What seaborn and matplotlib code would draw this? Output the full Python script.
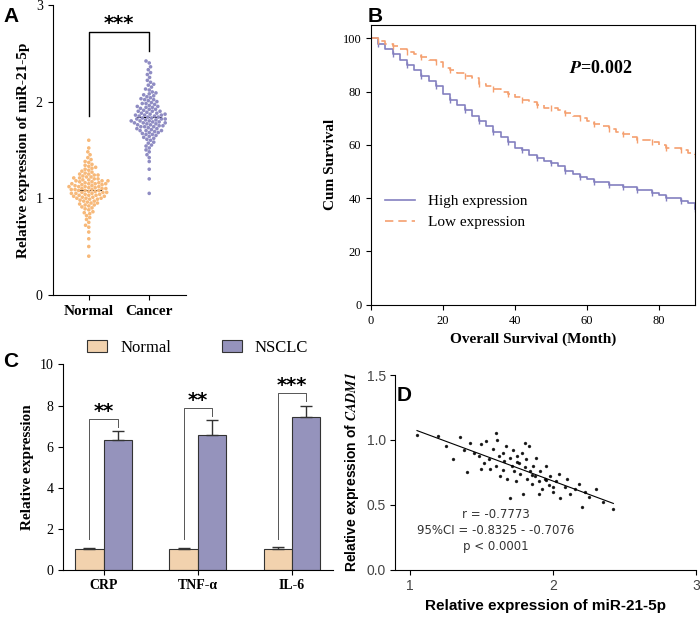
import matplotlib
matplotlib.use("Agg")
import matplotlib.pyplot as plt
import seaborn as sns
import numpy as np
import pandas as pd

normal_vals = [0.40,0.50,0.58,0.65,0.70,0.72,0.75,0.78,0.80,0.82,0.84,0.85,0.86,0.88,0.89,0.90,0.91,0.92,0.93,0.94,
 0.95,0.95,0.96,0.97,0.97,0.98,0.99,0.99,1.00,1.00,1.01,1.01,1.02,1.02,1.03,1.03,1.04,1.04,1.05,1.05,
 1.05,1.06,1.06,1.07,1.07,1.08,1.08,1.08,1.09,1.09,1.10,1.10,1.10,1.11,1.11,1.12,1.12,1.12,1.13,1.13,
 1.14,1.14,1.15,1.15,1.15,1.16,1.16,1.17,1.17,1.18,1.18,1.19,1.19,1.20,1.20,1.21,1.22,1.22,1.23,1.24,
 1.25,1.25,1.26,1.27,1.28,1.29,1.30,1.31,1.32,1.33,1.34,1.35,1.37,1.38,1.40,1.42,1.45,1.48,1.52,1.60,
 1.00,1.03,1.06,1.09,1.12,1.15,1.18,1.21,1.24,0.93]
cancer_vals = [1.05,1.20,1.30,1.38,1.42,1.45,1.48,1.50,1.52,1.54,1.55,1.57,1.58,1.60,1.61,1.62,1.63,1.64,1.65,1.66,
 1.67,1.68,1.68,1.69,1.70,1.70,1.71,1.72,1.72,1.73,1.74,1.74,1.75,1.75,1.76,1.76,1.77,1.77,1.78,1.78,
 1.79,1.79,1.80,1.80,1.80,1.81,1.81,1.82,1.82,1.83,1.83,1.84,1.84,1.85,1.85,1.86,1.86,1.87,1.87,1.88,
 1.88,1.89,1.90,1.90,1.91,1.92,1.92,1.93,1.94,1.95,1.95,1.96,1.97,1.98,1.99,2.00,2.01,2.02,2.03,2.04,
 2.05,2.06,2.07,2.08,2.09,2.10,2.12,2.13,2.15,2.17,2.18,2.20,2.22,2.25,2.28,2.30,2.33,2.36,2.40,2.42,
 1.78,1.82,1.86,1.90,1.74,1.70,1.66,1.94,1.98,2.02]

high_t = [0,2,4,6,8,10,12,14,16,18,20,22,24,26,28,30,32,34,36,38,40,42,44,46,48,50,52,54,56,58,60,62,64,66,68,70,72,74,76,78,80,82,84,86,88,90]
high_s = [100,98,96,94,92,90,88,86,84,82,79,77,75,73,71,69,67,65,63,61,59,58,56,55,54,53,52,50,49,48,47,46,46,45,45,44,44,43,43,42,41,40,40,39,38,36]
low_t = high_t
low_s = [100,99,98,97,96,95,94,93,92,91,89,88,87,86,85,83,82,81,80,79,78,77,76,75,74,74,73,72,71,70,69,68,67,66,65,64,63,62,62,61,60,59,59,58,57,56]

cats = ["CRP","TNF-α","IL-6"]
normal_means = [1.0,1.0,1.03]
normal_err = [0.05,0.07,0.07]
nsclc_means = [6.3,6.55,7.45]
nsclc_err = [0.45,0.75,0.55]
stars_c = ["**","**","***"]

sc_x = [1.05,1.20,1.25,1.30,1.35,1.38,1.40,1.42,1.45,1.48,1.50,1.52,1.53,1.55,1.56,1.58,1.60,1.61,1.62,1.63,
 1.65,1.66,1.67,1.68,1.70,1.71,1.72,1.73,1.74,1.75,1.76,1.77,1.78,1.79,1.80,1.81,1.82,1.83,1.84,1.85,
 1.86,1.87,1.88,1.90,1.91,1.92,1.94,1.95,1.97,1.98,2.00,2.02,2.04,2.05,2.08,2.10,2.12,2.15,2.18,2.20,
 2.22,2.25,2.30,2.35,2.42,1.60,1.70,1.80,1.90,2.00,1.50,1.75,1.85,1.95,1.65]
sc_y = [1.04,1.03,0.95,0.85,1.02,0.92,0.75,0.98,0.90,0.88,0.97,0.82,0.99,0.85,0.78,0.93,0.80,1.00,0.88,0.72,
 0.90,0.84,0.95,0.70,0.86,0.80,0.92,0.76,0.68,0.88,0.82,0.74,0.90,0.58,0.79,0.85,0.70,0.95,0.76,0.66,
 0.80,0.72,0.86,0.68,0.76,0.62,0.70,0.80,0.65,0.72,0.60,0.68,0.74,0.55,0.64,0.70,0.58,0.62,0.66,0.48,
 0.60,0.56,0.62,0.52,0.47,1.05,0.55,0.98,0.58,0.64,0.78,0.83,0.73,0.69,0.77]

plt.rcParams['mathtext.fontset'] = 'stix'
serif = ["Liberation Serif","DejaVu Serif"]
sans = ["Liberation Sans","DejaVu Sans"]
fig = plt.figure(figsize=(7,6.22), dpi=100)

# A
axA = fig.add_axes([0.075,0.526,0.19,0.466])
dfA = pd.DataFrame({"g":["Normal"]*len(normal_vals)+["Cancer"]*len(cancer_vals),"v":normal_vals+cancer_vals})
sns.swarmplot(data=dfA,x="g",y="v",hue="g",palette=["#f7b97a","#8f8cc3"],size=2.6,ax=axA,legend=False)
for i,vals in enumerate([normal_vals,cancer_vals]):
    m=np.mean(vals); axA.plot([i-0.2,i+0.2],[m,m],color="k",lw=0.8)
axA.set_ylim(0,3); axA.set_yticks([0,1,2,3]); axA.set_xlim(-0.6,1.6)
axA.plot([0,0,1,1],[1.85,2.72,2.72,2.52],color="k",lw=1)
axA.text(0.5,2.75,"***",ha="center",fontsize=14,fontweight="bold")
axA.set_xlabel(""); axA.set_ylabel("Relative expression of miR-21-5p",family=serif,fontsize=11,fontweight="bold")
for t in axA.get_xticklabels(): t.set_family(serif); t.set_fontweight("bold"); t.set_fontsize(11)
for t in axA.get_yticklabels(): t.set_family(serif)
sns.despine(ax=axA)
fig.text(0.005,0.965,"A",fontsize=15,fontweight="bold",family=sans)

# B
axB = fig.add_axes([0.53,0.51,0.463,0.45])
axB.step(high_t,high_s,where="post",color="#8480c0",lw=1.2,label="High expression")
axB.step(low_t,low_s,where="post",color="#f5a070",lw=1.2,ls=(0,(5,3)),label="Low expression")
axB.plot(high_t[1::2],high_s[1::2],"|",color="#8480c0",ms=5)
axB.plot(low_t[1::2],low_s[1::2],"|",color="#f5a070",ms=5)
axB.set_xlim(0,90); axB.set_ylim(0,105)
axB.set_yticks(range(0,101,20)); axB.set_xticks(range(0,81,20))
axB.set_xlabel("Overall Survival (Month)",family=serif,fontsize=11,fontweight="bold")
axB.set_ylabel("Cum Survival",family=serif,fontsize=11,fontweight="bold")
axB.text(55,87,"$\\mathbfit{P}$=0.002",family=serif,fontsize=13,fontweight="bold")
axB.legend(loc="lower left",bbox_to_anchor=(0.0,0.22),frameon=False,prop={"family":serif,"size":11})
for t in axB.get_xticklabels()+axB.get_yticklabels(): t.set_family(serif); t.set_fontsize(9)
fig.text(0.525,0.965,"B",fontsize=15,fontweight="bold",family=sans)

# C
axC = fig.add_axes([0.09,0.084,0.385,0.33])
dfC = pd.DataFrame({"c":cats*2,"g":["Normal"]*3+["NSCLC"]*3,"v":normal_means+nsclc_means})
sns.barplot(data=dfC,x="c",y="v",hue="g",palette=["#fdd3a3","#8f8cc3"],edgecolor="#333",lw=0.8,width=0.6,ax=axC,errorbar=None)
for i in range(3):
    axC.errorbar(i-0.15,normal_means[i],yerr=[[0],[normal_err[i]]],color="#333",capsize=4,lw=1)
    axC.errorbar(i+0.15,nsclc_means[i],yerr=[[0],[nsclc_err[i]]],color="#333",capsize=4,lw=1)
    top=nsclc_means[i]+nsclc_err[i]+0.6
    axC.plot([i-0.15,i-0.15,i+0.15,i+0.15],[1.5,top,top,nsclc_means[i]+nsclc_err[i]+0.2],color="#555",lw=0.7)
    axC.text(i,top+0.1,stars_c[i],ha="center",fontsize=14,fontweight="bold")
axC.set_ylim(0,10); axC.set_yticks(range(0,11,2))
axC.set_xlabel(""); axC.set_ylabel("Relative expression",family=serif,fontsize=11,fontweight="bold")
axC.legend(loc="lower center",bbox_to_anchor=(0.5,0.97),ncol=2,frameon=False,prop={"family":serif,"size":12},handlelength=1.2,columnspacing=3)
for t in axC.get_xticklabels(): t.set_family(serif); t.set_fontweight("bold")
for t in axC.get_yticklabels(): t.set_family(serif)
sns.despine(ax=axC)
fig.text(0.005,0.41,"C",fontsize=15,fontweight="bold",family=sans)

# D
axD = fig.add_axes([0.565,0.084,0.43,0.313])
sns.regplot(x=sc_x,y=sc_y,ci=None,ax=axD,scatter_kws={"s":2,"color":"k"},line_kws={"color":"k","lw":0.8},truncate=True)
axD.set_xlim(0.9,3); axD.set_ylim(0,1.5)
axD.set_xticks([1,2,3]); axD.set_yticks([0,0.5,1.0,1.5])
axD.set_xlabel("Relative expression of miR-21-5p",family=sans,fontsize=11,fontweight="bold")
axD.set_ylabel("Relative expression of $\\mathbfit{CADM1}$",family=sans,fontsize=10,fontweight="bold")
axD.text(1.6,0.3,"r = -0.7773\n95%CI = -0.8325 - -0.7076\np < 0.0001",ha="center",va="center",fontsize=8.5,color="#333",linespacing=1.3)
for t in axD.get_xticklabels()+axD.get_yticklabels(): t.set_family(sans); t.set_color("#444")
sns.despine(ax=axD)
fig.text(0.567,0.355,"D",fontsize=15,fontweight="bold",family=sans)

fig.savefig("out.png",dpi=100)
